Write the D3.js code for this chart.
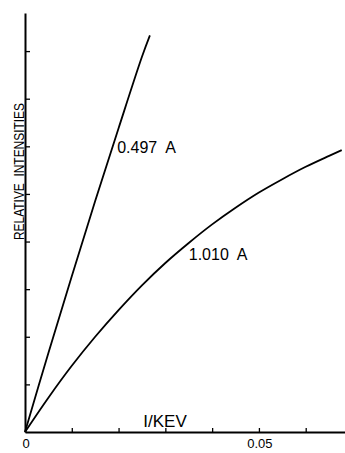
<!DOCTYPE html>
<html><head><meta charset="utf-8">
<script src="https://cdn.jsdelivr.net/npm/d3@7"></script>
<style>html,body{margin:0;padding:0;background:#fff;} svg{display:block;} text{font-family:"Liberation Sans",Arial,sans-serif;fill:#000;white-space:pre;}</style>
</head><body><svg id="c" width="345" height="453"></svg>
<script>
// Data
const x497 = [0, 0.005, 0.01, 0.015, 0.02, 0.025, 0.0267];
const y497 = [0, 1.66, 3.27, 4.85, 6.38, 7.88, 8.33];
const x1010 = [0, 0.005, 0.01, 0.015, 0.02, 0.025, 0.03, 0.035, 0.04, 0.045, 0.05, 0.055, 0.06, 0.065, 0.0677];
const y1010 = [0, 0.72, 1.39, 2.0, 2.56, 3.08, 3.55, 3.97, 4.36, 4.71, 5.03, 5.31, 5.57, 5.8, 5.92];
const xTicks = [0.01, 0.02, 0.03, 0.04, 0.05, 0.06];
const yTicks = [1, 2, 3, 4, 5, 6, 7, 8];
const xTickLabels = [[0, "0"], [0.05, "0.05"]];
const seriesLabels = [["0.497  A", 0.0197, 5.86], ["1.010  A", 0.035, 3.61]];

const svg = d3.select("#c");
const x = d3.scaleLinear().domain([0, 0.0684]).range([25, 345]);
const y = d3.scaleLinear().domain([0, 8.8]).range([432, 13]);

// x axis
const gx = svg.append("g").attr("transform", `translate(0,${y(0)})`)
  .call(d3.axisBottom(x).tickValues(xTicks).tickSizeInner(-4).tickSizeOuter(0).tickFormat(""));
gx.select(".domain").attr("stroke", "#000").attr("stroke-width", 2);
gx.selectAll(".tick line").attr("stroke", "#000").attr("stroke-width", 1.3);

// y axis
const gy = svg.append("g").attr("transform", `translate(${x(0)},0)`)
  .call(d3.axisLeft(y).tickValues(yTicks).tickSizeInner(-5).tickSizeOuter(0).tickFormat(""));
gy.select(".domain").attr("stroke", "#000").attr("stroke-width", 2);
gy.selectAll(".tick line").attr("stroke", "#000").attr("stroke-width", 1.3);

const line = d3.line().x(d => x(d[0])).y(d => y(d[1])).curve(d3.curveCatmullRom);
[[x497, y497], [x1010, y1010]].forEach(([xs, ys]) => {
  svg.append("path").datum(xs.map((v, i) => [v, ys[i]]))
    .attr("d", line).attr("fill", "none").attr("stroke", "#000").attr("stroke-width", 1.8);
});

seriesLabels.forEach(([t, vx, vy]) => {
  svg.append("text").attr("x", x(vx)).attr("y", y(vy)).attr("font-size", 16).text(t);
});

xTickLabels.forEach(([v, t]) => {
  svg.append("text").attr("x", x(v) + 1).attr("y", 448).attr("text-anchor", "middle")
    .attr("font-size", 13).text(t);
});

svg.append("text").attr("x", 165).attr("y", 427).attr("text-anchor", "middle")
  .attr("font-size", 17).text("I/KEV");

svg.append("text").attr("transform", `translate(24,${(103 + 240) / 2}) rotate(-90)`)
  .attr("text-anchor", "middle").attr("font-size", 15)
  .attr("textLength", 137).attr("lengthAdjust", "spacingAndGlyphs")
  .text("RELATIVE  INTENSITIES");
</script></body></html>
